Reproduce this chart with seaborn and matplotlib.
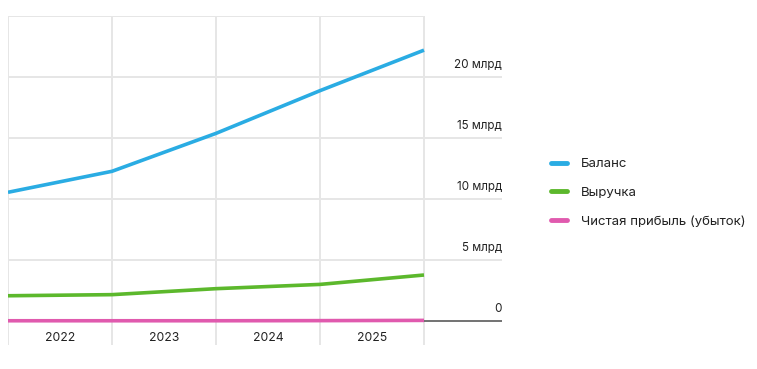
import numpy as np
import pandas as pd
import matplotlib
matplotlib.use("Agg")
import matplotlib.pyplot as plt
import seaborn as sns

# ---- data (billions of rubles) ----
years = ["2022", "2023", "2024", "2025"]
balance = [10.55, 12.27, 15.38, 18.88, 22.2]
revenue = [2.07, 2.16, 2.65, 3.0, 3.77]
profit = [0.02, 0.02, 0.02, 0.03, 0.05]
series_names = ["Баланс", "Выручка", "Чистая прибыль (убыток)"]
ytick_values = [0, 5, 10, 15, 20]
ytick_labels = ["0", "5 млрд", "10 млрд", "15 млрд", "20 млрд"]

colors = ["#2aace3", "#5cb82c", "#e05aae"]

sns.set_theme(style="white")
plt.rcParams["font.family"] = ["Inter", "DejaVu Sans"]

W, H = 757, 369
fig = plt.figure(figsize=(W / 100, H / 100), dpi=100)
# axes box in pixels: left 8, right 502, top 16, bottom 345
ax = fig.add_axes([8 / W, (H - 345) / H, (502 - 8) / W, (345 - 16) / H])

n = len(balance)
idx = np.arange(n)
df = pd.DataFrame({
    "x": np.concatenate([idx, idx, idx]),
    "value": balance + revenue + profit,
    "series": [series_names[0]] * n + [series_names[1]] * n + [series_names[2]] * n,
})

xmax = n - 1 + 0.75
ymin, ymax = -1.967, 25.0
ax.set_xlim(0, xmax)
ax.set_ylim(ymin, ymax)
for s in ax.spines.values():
    s.set_visible(False)
ax.set_xticks([])
ax.set_yticks([])

grid_c = "#e6e6e6"
# vertical grid lines
ax.vlines(idx, ymin, ymax, color=grid_c, lw=1.4, zorder=1)
# horizontal grid lines
for v in ytick_values[1:]:
    ax.hlines(v, 0, xmax, color=grid_c, lw=1.4, zorder=1)
ax.hlines(ymax, 0, n - 1, color=grid_c, lw=1.4, zorder=1)
ax.hlines(0, 0, xmax, color="#5a5a5a", lw=1.2, zorder=2)

sns.lineplot(data=df, x="x", y="value", hue="series", palette=colors,
             hue_order=series_names, linewidth=2.6, ax=ax, legend=False,
             zorder=3)
for line in ax.get_lines():
    line.set_solid_capstyle("butt")

# y labels on the right, above grid lines
for v, lab in zip(ytick_values, ytick_labels):
    ax.text(xmax, v + 0.98, lab, ha="right", va="center", fontsize=8.4,
            color="#222222")

# year labels centered between grid lines
for i, y in enumerate(years):
    ax.text(i + 0.5, -1.39, y, ha="center", va="center", fontsize=8.8,
            color="#222222")

ax.set_xlabel("")
ax.set_ylabel("")

from matplotlib.lines import Line2D
handles = [Line2D([0], [0], color=c, lw=3.5, solid_capstyle="round") for c in colors]
leg = fig.legend(handles, series_names, loc="center left",
                 bbox_to_anchor=(551 / W, 1 - 193 / H), frameon=False,
                 fontsize=9.5, handlelength=1.25, handletextpad=1.0,
                 labelspacing=1.25, borderpad=0, borderaxespad=0)
for t in leg.get_texts():
    t.set_color("#222222")

fig.savefig("out.png", dpi=100)
